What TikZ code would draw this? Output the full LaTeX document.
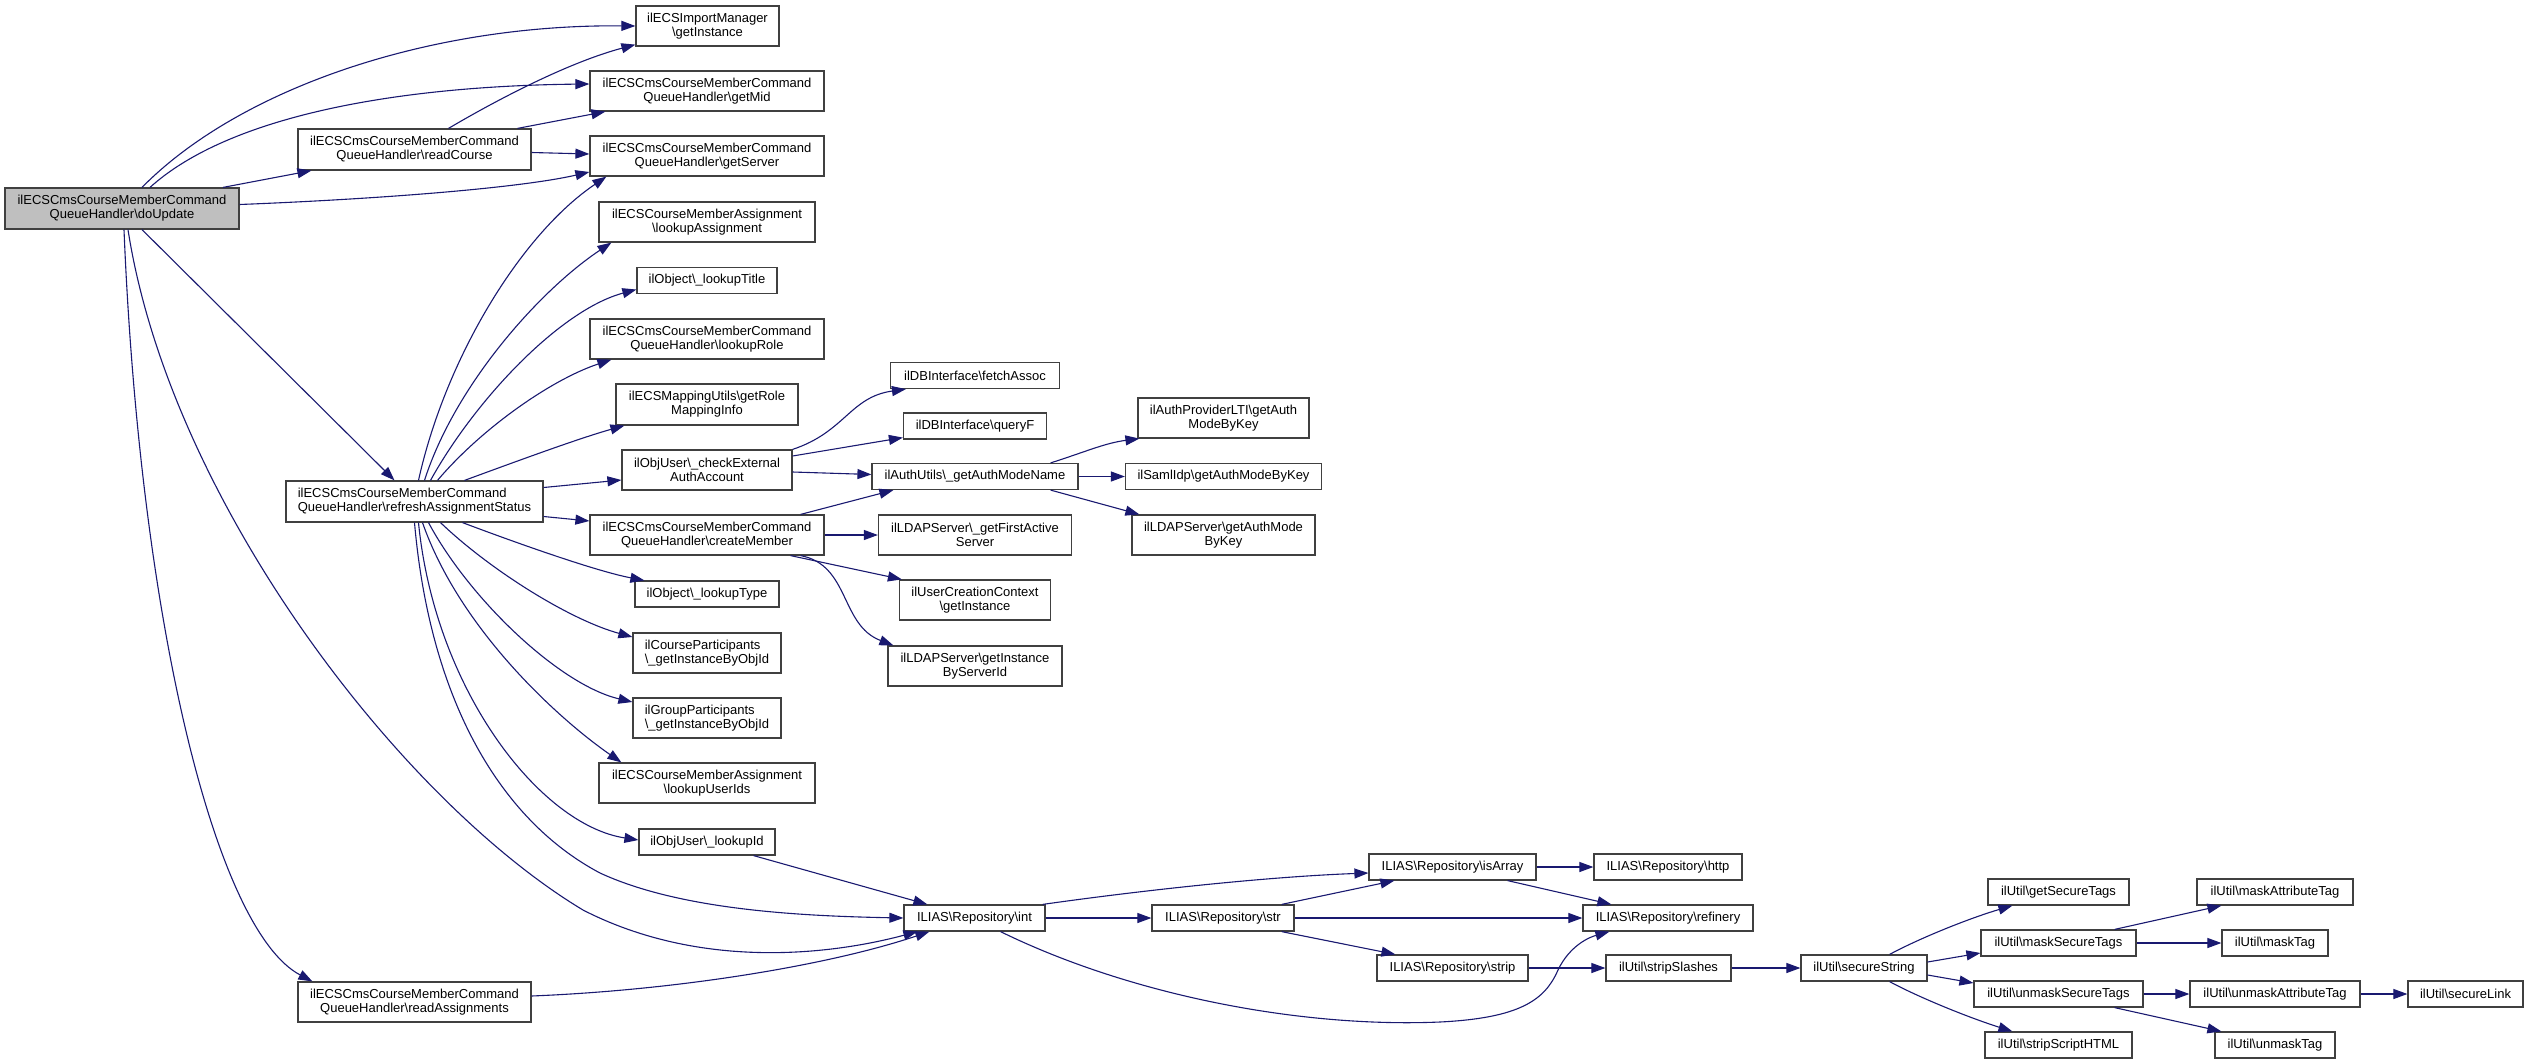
\documentclass[tikz,border=0pt]{standalone}
\usepackage{fontspec}
\setmainfont{Liberation Sans}
\usetikzlibrary{arrows.meta,calc}
\definecolor{edgec}{HTML}{191970}
\definecolor{nodeb}{HTML}{404040}
\definecolor{rootfill}{HTML}{BFBFBF}
\newcommand{\bsl}{\textbackslash}
\tikzset{
  fn/.style={draw=nodeb, line width=1.2pt, fill=white, inner sep=0pt, align=center,
    font=\fontsize{13}{14}\selectfont, text=black},
  call/.style={draw=edgec, line width=1.1pt, -{Triangle[length=14pt,width=10pt]}},
}
\begin{document}
\begin{tikzpicture}[x=1pt,y=-1pt]
\useasboundingbox (0,0) rectangle (2528,1063);
% column 0/1
\node[fn, fill=rootfill, minimum width=234pt, minimum height=41pt] (doUpdate) at (122,208.5) {ilECSCmsCourseMemberCommand\\QueueHandler\bsl doUpdate};
\node[fn, minimum width=233pt, minimum height=41pt] (readCourse) at (414.5,149.5) {ilECSCmsCourseMemberCommand\\QueueHandler\bsl readCourse};
\node[fn, align=left, minimum width=257pt, minimum height=41pt] (refresh) at (414.5,501.5) {ilECSCmsCourseMemberCommand\\QueueHandler\bsl refreshAssignmentStatus};
\node[fn, minimum width=233pt, minimum height=40pt] (readAssign) at (414.5,1002) {ilECSCmsCourseMemberCommand\\QueueHandler\bsl readAssignments};
% column 2
\node[fn, minimum width=143pt, minimum height=40pt] (getInstImp) at (707.5,26) {ilECSImportManager\\\bsl getInstance};
\node[fn, minimum width=234pt, minimum height=40pt] (getMid) at (707,91) {ilECSCmsCourseMemberCommand\\QueueHandler\bsl getMid};
\node[fn, minimum width=234pt, minimum height=40pt] (getServer) at (707,156) {ilECSCmsCourseMemberCommand\\QueueHandler\bsl getServer};
\node[fn, minimum width=216pt, minimum height=40pt] (lookupAssign) at (707,222) {ilECSCourseMemberAssignment\\\bsl lookupAssignment};
\node[fn, minimum width=140pt, minimum height=26pt] (lookupTitle) at (707,280.5) {ilObject\bsl\_lookupTitle};
\node[fn, minimum width=234pt, minimum height=40pt] (lookupRole) at (707,339) {ilECSCmsCourseMemberCommand\\QueueHandler\bsl lookupRole};
\node[fn, minimum width=182pt, minimum height=41pt] (getRoleMap) at (707,404.5) {ilECSMappingUtils\bsl getRole\\MappingInfo};
\node[fn, minimum width=170pt, minimum height=40pt] (checkExt) at (707,470) {ilObjUser\bsl\_checkExternal\\AuthAccount};
\node[fn, minimum width=234pt, minimum height=40pt] (createMember) at (707,535) {ilECSCmsCourseMemberCommand\\QueueHandler\bsl createMember};
\node[fn, minimum width=144pt, minimum height=26pt] (lookupType) at (707,594) {ilObject\bsl\_lookupType};
\node[fn, align=left, minimum width=148pt, minimum height=40pt] (coursePart) at (707,653) {ilCourseParticipants\\\bsl\_getInstanceByObjId};
\node[fn, align=left, minimum width=148pt, minimum height=40pt] (groupPart) at (707,718) {ilGroupParticipants\\\bsl\_getInstanceByObjId};
\node[fn, minimum width=216pt, minimum height=40pt] (lookupUserIds) at (707,783) {ilECSCourseMemberAssignment\\\bsl lookupUserIds};
\node[fn, minimum width=136pt, minimum height=26pt] (lookupId) at (707,842) {ilObjUser\bsl\_lookupId};
% column 3
\node[fn, minimum width=169pt, minimum height=26pt] (fetchAssoc) at (975,375.5) {ilDBInterface\bsl fetchAssoc};
\node[fn, minimum width=143pt, minimum height=26pt] (queryF) at (975,426) {ilDBInterface\bsl queryF};
\node[fn, minimum width=206pt, minimum height=26pt] (authMode) at (975,476.5) {ilAuthUtils\bsl\_getAuthModeName};
\node[fn, minimum width=193pt, minimum height=40pt] (firstActive) at (975,535) {ilLDAPServer\bsl\_getFirstActive\\Server};
\node[fn, minimum width=151pt, minimum height=40pt] (userCreation) at (975,600) {ilUserCreationContext\\\bsl getInstance};
\node[fn, minimum width=174pt, minimum height=40pt] (getInstSrv) at (975,666) {ilLDAPServer\bsl getInstance\\ByServerId};
\node[fn, minimum width=141pt, minimum height=26pt] (int) at (974.5,918) {ILIAS\bsl Repository\bsl int};
% column 4
\node[fn, minimum width=171pt, minimum height=40pt] (lti) at (1223.5,418) {ilAuthProviderLTI\bsl getAuth\\ModeByKey};
\node[fn, minimum width=196pt, minimum height=26pt] (saml) at (1223.5,476.5) {ilSamlIdp\bsl getAuthModeByKey};
\node[fn, minimum width=183pt, minimum height=40pt] (ldapAuth) at (1223.5,535) {ilLDAPServer\bsl getAuthMode\\ByKey};
\node[fn, minimum width=142pt, minimum height=26pt] (str) at (1223,918) {ILIAS\bsl Repository\bsl str};
% right part
\node[fn, minimum width=167pt, minimum height=26pt] (isArray) at (1452.5,867) {ILIAS\bsl Repository\bsl isArray};
\node[fn, minimum width=151pt, minimum height=26pt] (strip) at (1452.5,968) {ILIAS\bsl Repository\bsl strip};
\node[fn, minimum width=148pt, minimum height=26pt] (http) at (1668,867) {ILIAS\bsl Repository\bsl http};
\node[fn, minimum width=170pt, minimum height=26pt] (refinery) at (1668,918) {ILIAS\bsl Repository\bsl refinery};
\node[fn, minimum width=125pt, minimum height=26pt] (stripSlashes) at (1668.5,968) {ilUtil\bsl stripSlashes};
\node[fn, minimum width=126pt, minimum height=26pt] (secureString) at (1864,968) {ilUtil\bsl secureString};
\node[fn, minimum width=141pt, minimum height=26pt] (getSecureTags) at (2058.5,892) {ilUtil\bsl getSecureTags};
\node[fn, minimum width=155pt, minimum height=26pt] (maskSecureTags) at (2058.5,943) {ilUtil\bsl maskSecureTags};
\node[fn, minimum width=169pt, minimum height=26pt] (unmaskSecureTags) at (2058.5,994) {ilUtil\bsl unmaskSecureTags};
\node[fn, minimum width=147pt, minimum height=26pt] (stripScript) at (2058.5,1045) {ilUtil\bsl stripScriptHTML};
\node[fn, minimum width=156pt, minimum height=26pt] (maskAttr) at (2275,892) {ilUtil\bsl maskAttributeTag};
\node[fn, minimum width=106pt, minimum height=26pt] (maskTag) at (2275,943) {ilUtil\bsl maskTag};
\node[fn, minimum width=170pt, minimum height=26pt] (unmaskAttr) at (2275,994) {ilUtil\bsl unmaskAttributeTag};
\node[fn, minimum width=120pt, minimum height=26pt] (unmaskTag) at (2275,1045) {ilUtil\bsl unmaskTag};
\node[fn, minimum width=115pt, minimum height=26pt] (secureLink) at (2465.5,994) {ilUtil\bsl secureLink};

% edges from doUpdate
\draw[call] ($(doUpdate.north)+(20,0)$) .. controls (240,88) and (430,24) .. (getInstImp.west);
\draw[call] ($(doUpdate.north)+(28,0)$) .. controls (230,115) and (400,86) .. ($(getMid.west)+(0,-7)$);
\draw[call] ($(doUpdate.north)+(101,0)$) -- ($(readCourse.south west)+(14,0)$);
\draw[call] ($(doUpdate.east)+(0,-4)$) .. controls (380,199) and (520,188) .. ($(getServer.west)+(0,16)$);
\draw[call] ($(doUpdate.south)+(20,0)$) -- ($(refresh.north)+(-20,0)$);
\draw[call] ($(doUpdate.south)+(2,0)$) .. controls (140,620) and (215,930) .. ($(readAssign.north west)+(15,0)$);
\draw[call] ($(doUpdate.south)+(6,0)$) .. controls (170,500) and (400,800) .. (583,910) .. controls (700,970) and (830,955) .. ($(int.south west)+(14,0)$);
% edges from readCourse
\draw[call] ($(readCourse.north)+(34,0)$) .. controls (500,98) and (570,62) .. ($(getInstImp.south west)+(0,-2)$);
\draw[call] ($(readCourse.north)+(103,0)$) -- ($(getMid.south west)+(16,0)$);
\draw[call] ($(readCourse.east)+(0,3)$) -- ($(getServer.west)+(0,-2)$);
% edges from refresh
\draw[call] ($(refresh.north)+(4,0)$) .. controls (445,360) and (520,235) .. ($(getServer.south west)+(17,0)$);
\draw[call] ($(refresh.north)+(10,0)$) .. controls (455,385) and (540,290) .. ($(lookupAssign.south west)+(13,0)$);
\draw[call] ($(refresh.north)+(16,0)$) .. controls (475,400) and (560,310) .. ($(lookupTitle.west)+(0,9)$);
\draw[call] ($(refresh.north)+(23,0)$) .. controls (480,430) and (550,380) .. ($(lookupRole.south west)+(22,0)$);
\draw[call] ($(refresh.north)+(50,0)$) .. controls (520,460) and (580,438) .. ($(getRoleMap.south west)+(9,0)$);
\draw[call] ($(refresh.east)+(0,-14)$) -- ($(checkExt.west)+(0,10)$);
\draw[call] ($(refresh.east)+(0,15)$) -- ($(createMember.west)+(0,-14)$);
\draw[call] ($(refresh.south)+(48,0)$) .. controls (530,548) and (600,572) .. ($(lookupType.north west)+(10,0)$);
\draw[call] ($(refresh.south)+(26,0)$) .. controls (490,570) and (570,620) .. ($(coursePart.west)+(0,-16)$);
\draw[call] ($(refresh.south)+(14,0)$) .. controls (470,600) and (560,685) .. ($(groupPart.west)+(0,-16)$);
\draw[call] ($(refresh.south)+(8,0)$) .. controls (460,630) and (560,720) .. ($(lookupUserIds.north west)+(23,0)$);
\draw[call] ($(refresh.south)+(4,0)$) .. controls (435,690) and (540,825) .. ($(lookupId.west)+(0,-2)$);
\draw[call] (refresh.south) .. controls (430,700) and (500,820) .. (600,873) .. controls (680,910) and (800,916) .. (int.west);
% others to int
\draw[call] ($(readAssign.east)+(0,-6)$) .. controls (680,990) and (830,965) .. ($(int.south west)+(26,0)$);
\draw[call] ($(lookupId.south east)+(-22,0)$) -- ($(int.north west)+(24,0)$);
% checkExt
\draw[call] (checkExt.north east) .. controls (845,432) and (850,397) .. ($(fetchAssoc.south west)+(16,0)$);
\draw[call] ($(checkExt.east)+(0,-14)$) -- ($(queryF.south west)+(0,-2)$);
\draw[call] ($(checkExt.east)+(0,2)$) -- ($(authMode.west)+(0,-2)$);
% createMember
\draw[call] ($(createMember.north east)+(-24,0)$) -- ($(authMode.south west)+(22,0)$);
\draw[call] (createMember.east) -- (firstActive.west);
\draw[call] ($(createMember.south east)+(-34,0)$) -- ($(userCreation.north west)+(3,0)$);
\draw[call] ($(createMember.south east)+(-24,0)$) .. controls (850,565) and (840,625) .. ($(getInstSrv.north west)+(6,0)$);
% authMode
\draw[call] ($(authMode.north east)+(-28,0)$) .. controls (1085,452) and (1105,443) .. ($(lti.south west)+(2,0)$);
\draw[call] (authMode.east) -- (saml.west);
\draw[call] ($(authMode.south east)+(-28,0)$) -- ($(ldapAuth.north west)+(8,0)$);
% int
\draw[call] ($(int.north east)+(-3,0)$) .. controls (1130,892) and (1260,877) .. ($(isArray.west)+(0,6)$);
\draw[call] (int.east) -- (str.west);
\draw[call] ($(int.south)+(26,0)$) .. controls (1130,995) and (1300,1028) .. (1440,1022) .. controls (1520,1018) and (1545,1000) .. (1558,970) .. controls (1570,945) and (1590,937) .. ($(refinery.south west)+(27,0)$);
% str
\draw[call] ($(str.north east)+(-13,0)$) -- ($(isArray.south west)+(26,0)$);
\draw[call] (str.east) -- (refinery.west);
\draw[call] ($(str.south east)+(-13,0)$) -- ($(strip.north west)+(19,0)$);
% isArray, strip
\draw[call] (isArray.east) -- (http.west);
\draw[call] ($(isArray.south east)+(-29,0)$) -- ($(refinery.north west)+(29,0)$);
\draw[call] (strip.east) -- (stripSlashes.west);
\draw[call] (stripSlashes.east) -- (secureString.west);
% secureString
\draw[call] ($(secureString.north east)+(-38,0)$) .. controls (1920,938) and (1970,918) .. ($(getSecureTags.south west)+(25,0)$);
\draw[call] ($(secureString.east)+(0,-6)$) -- ($(maskSecureTags.west)+(0,10)$);
\draw[call] ($(secureString.east)+(0,7)$) -- ($(unmaskSecureTags.west)+(0,-11)$);
\draw[call] ($(secureString.south east)+(-38,0)$) .. controls (1920,998) and (1970,1018) .. ($(stripScript.north west)+(28,0)$);
% mask / unmask
\draw[call] ($(maskSecureTags.north east)+(-22,0)$) -- ($(maskAttr.south west)+(25,0)$);
\draw[call] (maskSecureTags.east) -- (maskTag.west);
\draw[call] (unmaskSecureTags.east) -- (unmaskAttr.west);
\draw[call] ($(unmaskSecureTags.south east)+(-29,0)$) -- ($(unmaskTag.north west)+(7,0)$);
\draw[call] (unmaskAttr.east) -- (secureLink.west);
\end{tikzpicture}
\end{document}
